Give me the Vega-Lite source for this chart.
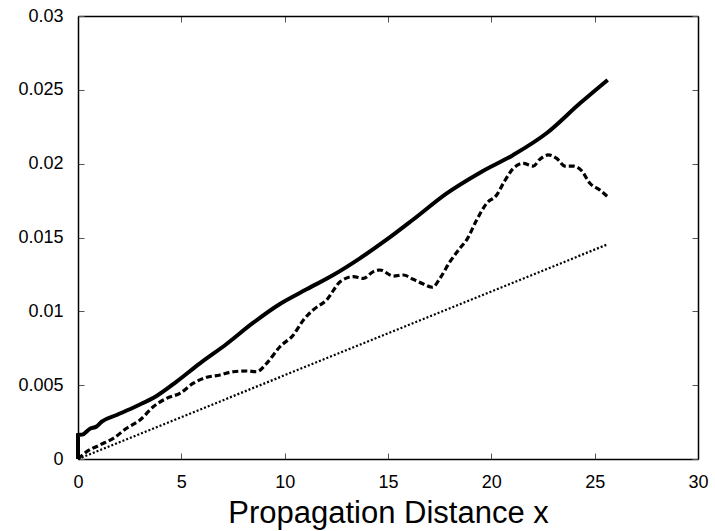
{
  "$schema": "https://vega.github.io/schema/vega-lite/v6.json",
  "width": 620,
  "height": 443,
  "autosize": "none",
  "padding": {"left": 78, "top": 16, "right": 17, "bottom": 72},
  "background": "white",
  "config": {
    "view": {"stroke": null},
    "font": "Liberation Sans",
    "axis": {
      "grid": false,
      "domainColor": "black",
      "domainWidth": 1.5,
      "tickColor": "#555555",
      "tickWidth": 1,
      "tickSize": -6,
      "labelColor": "black",
      "labelFontSize": 18,
      "labelFont": "Liberation Sans",
      "titleColor": "black",
      "titleFont": "Liberation Sans",
      "titleFontWeight": "normal"
    }
  },
  "datasets": {
    "curves": [
      {"series": "solid", "x": 0, "y": 0},
      {"series": "solid", "x": 0, "y": 0.00163},
      {"series": "solid", "x": 0.2, "y": 0.00165},
      {"series": "solid", "x": 0.58, "y": 0.00205},
      {"series": "solid", "x": 0.9, "y": 0.0022},
      {"series": "solid", "x": 1.15, "y": 0.00253},
      {"series": "solid", "x": 1.87, "y": 0.00298},
      {"series": "solid", "x": 2.84, "y": 0.00359},
      {"series": "solid", "x": 3.8, "y": 0.00427},
      {"series": "solid", "x": 4.77, "y": 0.00524},
      {"series": "solid", "x": 5.9, "y": 0.00648},
      {"series": "solid", "x": 7.19, "y": 0.00779},
      {"series": "solid", "x": 8.48, "y": 0.00923},
      {"series": "solid", "x": 9.77, "y": 0.0105},
      {"series": "solid", "x": 11.06, "y": 0.01149},
      {"series": "solid", "x": 12.35, "y": 0.01246},
      {"series": "solid", "x": 13.64, "y": 0.01359},
      {"series": "solid", "x": 14.93, "y": 0.01485},
      {"series": "solid", "x": 16.22, "y": 0.01622},
      {"series": "solid", "x": 17.84, "y": 0.01799},
      {"series": "solid", "x": 19.45, "y": 0.01939},
      {"series": "solid", "x": 21.06, "y": 0.02059},
      {"series": "solid", "x": 22.67, "y": 0.02206},
      {"series": "solid", "x": 24.29, "y": 0.02409},
      {"series": "solid", "x": 25.63, "y": 0.02567},
      {"series": "dashed", "x": 0, "y": 0},
      {"series": "dashed", "x": 0.42, "y": 0.0005},
      {"series": "dashed", "x": 1.06, "y": 0.00095},
      {"series": "dashed", "x": 1.71, "y": 0.0014},
      {"series": "dashed", "x": 2.35, "y": 0.00208},
      {"series": "dashed", "x": 3.0, "y": 0.00264},
      {"series": "dashed", "x": 3.64, "y": 0.00354},
      {"series": "dashed", "x": 4.29, "y": 0.00411},
      {"series": "dashed", "x": 4.93, "y": 0.00445},
      {"series": "dashed", "x": 5.58, "y": 0.00513},
      {"series": "dashed", "x": 6.23, "y": 0.00553},
      {"series": "dashed", "x": 6.87, "y": 0.00569},
      {"series": "dashed", "x": 7.51, "y": 0.00591},
      {"series": "dashed", "x": 8.16, "y": 0.00596},
      {"series": "dashed", "x": 8.64, "y": 0.00591},
      {"series": "dashed", "x": 9.13, "y": 0.00648},
      {"series": "dashed", "x": 9.77, "y": 0.0076},
      {"series": "dashed", "x": 10.42, "y": 0.0084},
      {"series": "dashed", "x": 10.9, "y": 0.0094},
      {"series": "dashed", "x": 11.38, "y": 0.0101},
      {"series": "dashed", "x": 12.03, "y": 0.01077},
      {"series": "dashed", "x": 12.68, "y": 0.012},
      {"series": "dashed", "x": 13.32, "y": 0.01235},
      {"series": "dashed", "x": 13.8, "y": 0.01223},
      {"series": "dashed", "x": 14.29, "y": 0.01269},
      {"series": "dashed", "x": 14.61, "y": 0.0128},
      {"series": "dashed", "x": 15.26, "y": 0.01239},
      {"series": "dashed", "x": 15.74, "y": 0.01246},
      {"series": "dashed", "x": 16.22, "y": 0.01217},
      {"series": "dashed", "x": 16.71, "y": 0.01185},
      {"series": "dashed", "x": 17.16, "y": 0.01163},
      {"series": "dashed", "x": 17.51, "y": 0.01223},
      {"series": "dashed", "x": 18.0, "y": 0.01336},
      {"series": "dashed", "x": 18.48, "y": 0.01427},
      {"series": "dashed", "x": 18.8, "y": 0.01483},
      {"series": "dashed", "x": 19.29, "y": 0.01618},
      {"series": "dashed", "x": 19.77, "y": 0.01731},
      {"series": "dashed", "x": 20.26, "y": 0.01788},
      {"series": "dashed", "x": 20.58, "y": 0.01867},
      {"series": "dashed", "x": 21.06, "y": 0.01968},
      {"series": "dashed", "x": 21.54, "y": 0.02002},
      {"series": "dashed", "x": 22.03, "y": 0.01984},
      {"series": "dashed", "x": 22.35, "y": 0.0203},
      {"series": "dashed", "x": 22.75, "y": 0.02059},
      {"series": "dashed", "x": 23.16, "y": 0.02036},
      {"series": "dashed", "x": 23.56, "y": 0.01984},
      {"series": "dashed", "x": 23.96, "y": 0.01984},
      {"series": "dashed", "x": 24.37, "y": 0.01952},
      {"series": "dashed", "x": 24.77, "y": 0.01867},
      {"series": "dashed", "x": 25.25, "y": 0.01822},
      {"series": "dashed", "x": 25.63, "y": 0.01776},
      {"series": "dotted", "x": 0, "y": 0},
      {"series": "dotted", "x": 25.63, "y": 0.01454}
    ]
  },
  "data": {"name": "curves"},
  "resolve": {"axis": {"x": "independent", "y": "independent"}},
  "layer": [
    {
      "transform": [{"filter": "datum.series === 'dotted'"}],
      "mark": {"type": "line", "color": "black", "strokeWidth": 2.2, "strokeDash": [2, 2]},
      "encoding": {
        "x": {"field": "x", "type": "quantitative",
              "scale": {"domain": [0, 30], "nice": false, "zero": false},
              "axis": {"values": [0, 5, 10, 15, 20, 25, 30], "title": "Propagation Distance x",
                       "titleFontSize": 31, "labelPadding": 20, "titlePadding": 7, "labelFlush": false}},
        "y": {"field": "y", "type": "quantitative",
              "scale": {"domain": [0, 0.03], "nice": false},
              "axis": {"values": [0, 0.005, 0.01, 0.015, 0.02, 0.025, 0.03], "format": "~g", "title": null,
                       "labelPadding": 21, "labelFlush": false}}
      }
    },
    {
      "transform": [{"filter": "datum.series === 'dashed'"}],
      "mark": {"type": "line", "color": "black", "strokeWidth": 3.2, "strokeDash": [6, 3], "interpolate": "monotone"},
      "encoding": {
        "x": {"field": "x", "type": "quantitative", "scale": {"domain": [0, 30], "nice": false, "zero": false},
              "axis": {"orient": "top", "values": [0, 5, 10, 15, 20, 25, 30], "labels": false, "title": null}},
        "y": {"field": "y", "type": "quantitative", "scale": {"domain": [0, 0.03], "nice": false},
              "axis": {"orient": "right", "values": [0, 0.005, 0.01, 0.015, 0.02, 0.025, 0.03], "labels": false, "title": null}}
      }
    },
    {
      "transform": [{"filter": "datum.series === 'solid'"}],
      "mark": {"type": "line", "color": "black", "strokeWidth": 4, "interpolate": "monotone"},
      "encoding": {
        "x": {"field": "x", "type": "quantitative", "scale": {"domain": [0, 30], "nice": false, "zero": false}, "axis": null},
        "y": {"field": "y", "type": "quantitative", "scale": {"domain": [0, 0.03], "nice": false}, "axis": null}
      }
    }
  ]
}
